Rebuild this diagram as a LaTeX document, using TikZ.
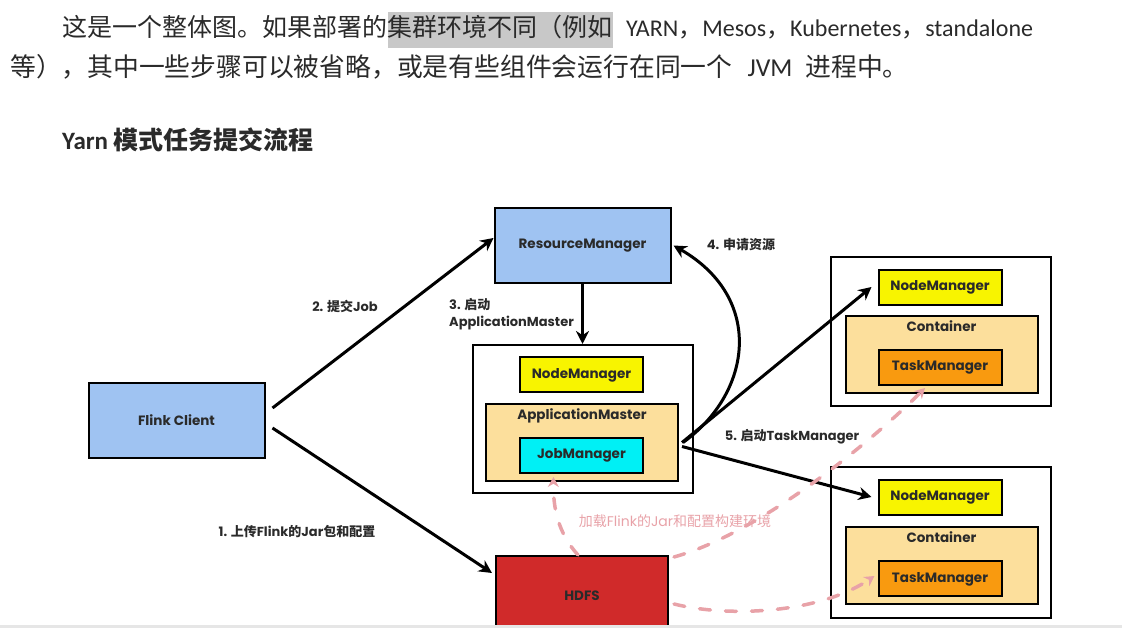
\documentclass[tikz,border=0pt]{standalone}
\usepackage{fontspec}
\setmainfont{Carlito}
\newfontfamily\cjk{Noto Sans CJK SC}
\newfontfamily\dfont{Poppins}
\usetikzlibrary{arrows.meta,chains,positioning}

\definecolor{inkgray}{HTML}{2A2A2A}
\definecolor{markgray}{HTML}{C8C8C8}
\definecolor{clientblue}{HTML}{9FC3F2}
\definecolor{nmyellow}{HTML}{F8F400}
\definecolor{amorange}{HTML}{FCDF9C}
\definecolor{jmcyan}{HTML}{00F0F5}
\definecolor{tmorange}{HTML}{F99A0F}
\definecolor{hdfsred}{HTML}{D02A2A}
\definecolor{loadpink}{HTML}{E8A2A8}
\definecolor{stripgray}{HTML}{E6E6E6}

\newcommand\zh[1]{{\cjk #1}}
\newcommand\zhb[1]{{\cjk\bfseries #1}}

\begin{document}
\begin{tikzpicture}[
                x=1pt, y=1pt,
                start chain,
                node distance = 0pt,
                TextLine/.style={inner sep=0pt, text height=18pt, text depth=5pt, text=inkgray,
                    font=\fontsize{25}{30}\selectfont},
                TextPiece/.style={TextLine, on chain},
                Block/.style={draw, line width=2pt, inner sep=0pt, text=inkgray,
                    font=\dfont\bfseries\fontsize{13.5}{17}\selectfont},
                HostBlock/.style={Block, fill=white, minimum width=220pt},
                BlueBlock/.style={Block, fill=clientblue, minimum width=176pt, minimum height=75pt},
                NodeBlock/.style={Block, fill=nmyellow, minimum width=123pt, minimum height=35pt},
                JobBlock/.style={Block, fill=jmcyan, minimum width=123pt, minimum height=35pt},
                TaskBlock/.style={Block, fill=tmorange, minimum width=123pt, minimum height=35pt},
                BoxBlock/.style={Block, fill=amorange, minimum width=192pt, minimum height=77pt,
                    label={[anchor=north, inner sep=5pt, text=inkgray, font=\dfont\bfseries\fontsize{13.5}{17}\selectfont]north:#1}},
                StepLabel/.style={inner sep=0pt, text=inkgray, align=left,
                    font=\dfont\bfseries\fontsize{13}{17}\selectfont},
                Flow/.style={line width=3pt, -{Stealth[length=13pt, width=13pt]}},
                LoadFlow/.style={loadpink, line width=3.5pt, line cap=round, dash pattern=on 11pt off 15pt,
                    -{Stealth[length=10pt, width=11pt]}},
            ]
            \useasboundingbox (0,0) rectangle (1122,628);

            { start chain = going right
                \node [TextPiece, anchor=west] (l1a) at (62,598) {\zh{这是一个整体图。如果部署的}};
                \node [TextPiece, fill=markgray, inner ysep=6.5pt] (l1b) {\zh{集群环境不同（例如}};
                \node [TextPiece, font=\fontsize{24}{30}\selectfont] (l1c) {\hspace{13pt}YARN\zh{，}Mesos\zh{，}Kubernetes\zh{，}standalone};
            }
            \node [TextLine, anchor=west, font=\fontsize{25.8}{30}\selectfont] (l2) at (10,558)
                {\zh{等），其中一些步骤可以被省略，或是有些组件会运行在同一个}\hspace{15pt}JVM\hspace{13pt}\zh{进程中。}};
            \node [TextLine, anchor=west] (title) at (62,485) {\bfseries Yarn \zhb{模式任务提交流程}};

            \node [BlueBlock] (fc) at (176.5,207.5) {Flink Client};
            \node [BlueBlock] (rm) at (582.5,382.5) {ResourceManager};

            \node [HostBlock, minimum height=148pt] (am) at (582.5,209) {};
            \node [NodeBlock] (nm1) at (581.5,253) {NodeManager};
            \node [BoxBlock=ApplicationMaster] (amc) at (582,185.5) {};
            \node [JobBlock] (jm) at (581.5,172.5) {JobManager};

            \node [HostBlock, minimum height=149pt] (h1) at (940.5,296.5) {};
            \node [NodeBlock] (nm2) at (940,340.5) {NodeManager};
            \node [BoxBlock=Container] (ct1) at (941.5,273) {};
            \node [TaskBlock] (tm1) at (940,260.5) {TaskManager};

            \node [HostBlock, minimum height=151pt] (h2) at (940.5,85.5) {};
            \node [NodeBlock] (nm3) at (940,130.5) {NodeManager};
            \node [BoxBlock=Container] (ct2) at (941.5,62) {};
            \node [TaskBlock] (tm2) at (940,49) {TaskManager};

            \node [Block, fill=hdfsred, minimum width=172pt, minimum height=80pt] (hdfs) at (582,32) {HDFS};

            \draw [Flow] ([shift={(7pt,12.5pt)}]fc.east) -- ([yshift=7.5pt]rm.west);
            \draw [Flow] ([shift={(7pt,-7.5pt)}]fc.east) -- ([shift={(-3pt,23pt)}]hdfs.west);
            \draw [Flow] (rm) -- (am);
            \draw [Flow] ([xshift=4pt]amc.east) .. controls (752,235) and (765,330) .. ([xshift=2pt]rm.east);
            \draw [Flow] ([xshift=3pt]amc.east) -- ([shift={(-6pt,0.5pt)}]nm2.west);
            \draw [Flow] ([shift={(3pt,-4pt)}]amc.east) -- ([shift={(-6pt,0.5pt)}]nm3.west);

            \node [StepLabel] (s1) at (297,96) {1. \zhb{上传}Flink\zhb{的}Jar\zhb{包和配置}};
            \node [StepLabel] (s2) at (345,322) {2. \zhb{提交}Job};
            \node [StepLabel, anchor=west] (s3) at (449,314) {3. \zhb{启动}\\ApplicationMaster};
            \node [StepLabel] (s4) at (741,383) {4. \zhb{申请资源}};
            \node [StepLabel] (s5) at (792,191) {5. \zhb{启动}TaskManager};

            \draw [LoadFlow] ([shift={(5pt,-2pt)}]hdfs.north east) .. controls (760,95) and (870,185) .. ([shift={(-15pt,-2pt)}]tm1.south);
            \draw [LoadFlow] ([shift={(5pt,-8pt)}]hdfs.east) .. controls (730,10) and (820,15) .. ([shift={(-3pt,3pt)}]tm2.west);
            \draw [LoadFlow] ([xshift=-4pt]hdfs.north) .. controls (558,95) and (553,120) .. ([shift={(-28pt,-3pt)}]jm.south);
            \node [StepLabel, text=loadpink, font=\dfont\fontsize{14}{17}\selectfont] (load) at (675,107) {\zh{加载}Flink\zh{的}Jar\zh{和配置构建环境}};

            \fill [stripgray] (0,0) rectangle (1122,2.5);
        \end{tikzpicture}
\end{document}
